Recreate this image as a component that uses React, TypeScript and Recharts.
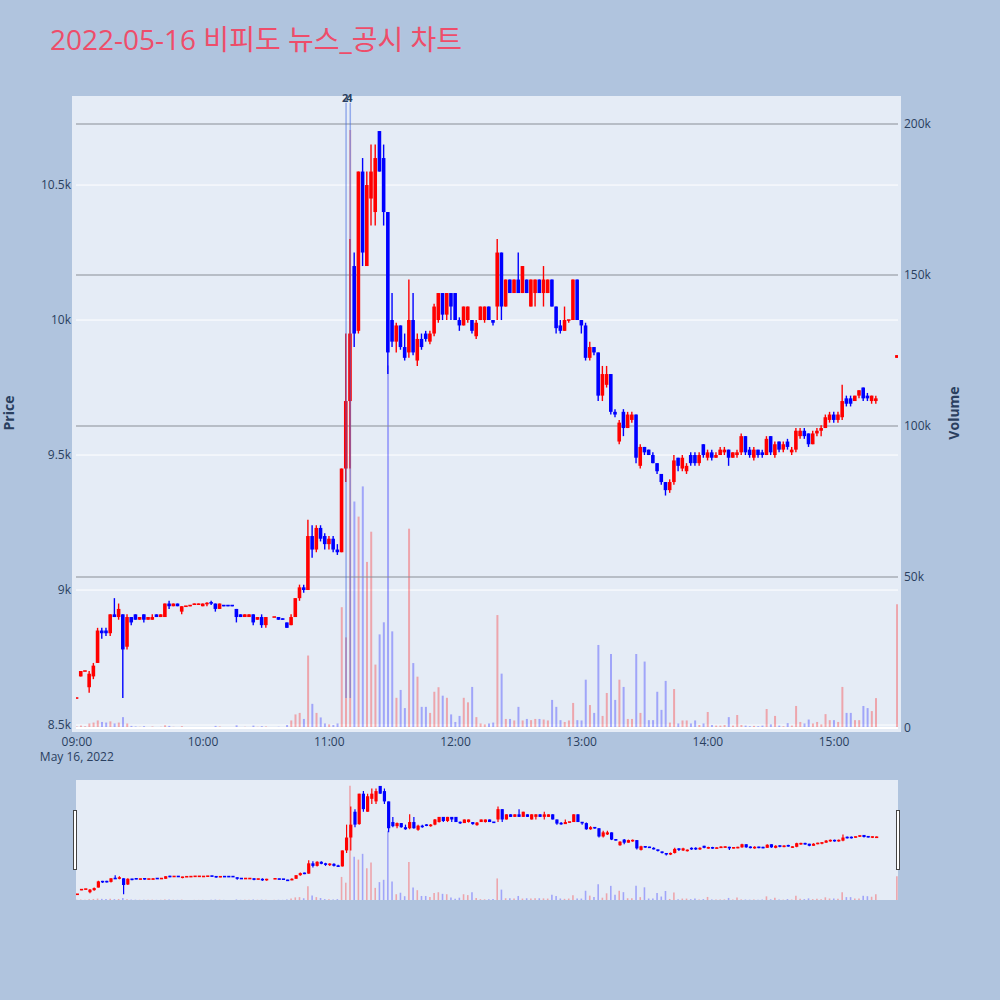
import React from "react";
import { ComposedChart, Bar, XAxis, YAxis, CartesianGrid, ReferenceLine, Cell } from "recharts";

// ---- data (2-minute bars from 09:00, index i -> minute 2*i) ----
const opens: (number | null)[] = [
  8600, 8680, 8700, 8640, 8680, 8730, 8850, 8850, 8840, 8910,
  8900, 8910, 8790, 8900, 8910, 8890, 8910, 8890, 8890, 8910,
  8900, 8900, 8950, 8940, 8950, 8920, 8940, 8940, 8945, 8945,
  8940, 8950, 8955, 8950, 8930, 8945, 8945, 8945, 8930, 8910,
  8900, 8900, 8910, 8890, 8900, 8870, null, 8900, 8900, 8895,
  8880, 8870, 8900, 8970, 9010, 9000, 9200, 9150, 9230, 9200,
  9170, 9190, 9150, 9140, 9450, 9700, 10200, 9960, 10550, 10200,
  10450, 10400, 10700, 10600, 10400, 10000, 9920, 9980, 9900, 9880,
  10000, 9850, 9930, 9950, 9920, 9950, 10000, 10100, 10020, 10100,
  10100, 10000, 9980, 10000, 10000, 9940, 10000, 10000, 10050, 10000,
  10050, 10250, 10050, 10150, 10100, 10150, 10100, 10150, 10050, 10100,
  10150, 10100, 10100, 10150, 10050, 9980, 9960, 10000, 10000, 10150,
  10000, 9980, 9860, 9900, 9880, 9720, 9760, 9800, 9660, 9550,
  9660, 9600, 9630, 9650, 9460, 9530, 9520, 9500, 9470, 9430,
  9400, 9370, 9400, 9490, 9450, 9440, 9500, 9500, 9470, 9540,
  9490, 9510, 9490, 9500, 9510, 9520, 9490, 9500, 9510, 9570,
  9520, 9490, 9520, 9510, 9500, 9570, 9500, 9550, 9520, 9550,
  9510, 9520, 9570, 9590, 9580, 9540, 9580, 9590, 9600, 9630,
  9650, 9630, 9640, 9710, 9710, 9700, 9720, 9750, 9720, 9700,
  9700, null, null, null, null, 9860,
];
const highs: (number | null)[] = [
  8600, 8700, 8700, 8700, 8730, 8860, 8860, 8860, 8910, 8970,
  8950, 8910, 8910, 8900, 8910, 8900, 8910, 8900, 8910, 8910,
  8910, 8950, 8960, 8950, 8950, 8940, 8940, 8945, 8950, 8950,
  8950, 8955, 8960, 8950, 8950, 8945, 8945, 8945, 8930, 8910,
  8910, 8910, 8910, 8900, 8910, 8900, null, 8900, 8900, 8895,
  8880, 8910, 8970, 9020, 9020, 9260, 9240, 9240, 9240, 9210,
  9200, 9200, 9170, 9450, 9950, 10300, 10250, 10550, 10600, 10550,
  10650, 10650, 10700, 10650, 10400, 10100, 9990, 9980, 9950, 10150,
  10100, 9950, 9950, 9960, 9960, 10060, 10100, 10100, 10100, 10100,
  10100, 10010, 10050, 10050, 10000, 10000, 10050, 10050, 10050, 10000,
  10300, 10250, 10150, 10150, 10150, 10250, 10200, 10150, 10150, 10150,
  10150, 10200, 10150, 10150, 10050, 10000, 10050, 10000, 10150, 10150,
  10000, 9990, 9920, 9900, 9880, 9830, 9830, 9800, 9670, 9630,
  9670, 9660, 9660, 9650, 9540, 9530, 9520, 9510, 9470, 9430,
  9400, 9410, 9500, 9490, 9500, 9470, 9510, 9510, 9510, 9540,
  9520, 9520, 9510, 9530, 9530, 9520, 9510, 9520, 9580, 9570,
  9530, 9530, 9520, 9520, 9570, 9570, 9550, 9550, 9550, 9560,
  9530, 9600, 9600, 9600, 9580, 9590, 9600, 9610, 9650, 9660,
  9660, 9660, 9760, 9720, 9720, 9720, 9740, 9750, 9730, 9720,
  9720, null, null, null, null, 9870,
];
const lows: (number | null)[] = [
  8600, 8680, 8700, 8620, 8670, 8730, 8820, 8830, 8830, 8900,
  8890, 8600, 8780, 8870, 8890, 8890, 8880, 8890, 8890, 8900,
  8900, 8900, 8930, 8940, 8940, 8910, 8940, 8940, 8945, 8945,
  8940, 8940, 8945, 8920, 8930, 8940, 8940, 8940, 8880, 8900,
  8900, 8900, 8870, 8890, 8860, 8860, null, 8900, 8890, 8890,
  8860, 8870, 8900, 8960, 8990, 9000, 9120, 9140, 9180, 9150,
  9150, 9140, 9130, 9140, 9400, 9450, 9900, 9950, 10200, 10200,
  10350, 10350, 10550, 10350, 9800, 9900, 9880, 9890, 9850, 9860,
  9870, 9830, 9890, 9920, 9910, 9940, 9990, 10000, 10000, 10000,
  10000, 9960, 9980, 9990, 9950, 9930, 10000, 9990, 10000, 9980,
  10000, 10000, 10050, 10100, 10100, 10100, 10100, 10100, 10050, 10050,
  10100, 10050, 10100, 10050, 9950, 9950, 9960, 9990, 10000, 10000,
  9950, 9850, 9850, 9870, 9700, 9700, 9750, 9650, 9640, 9540,
  9570, 9600, 9620, 9470, 9450, 9500, 9500, 9470, 9430, 9390,
  9350, 9360, 9390, 9440, 9440, 9430, 9460, 9460, 9460, 9490,
  9480, 9480, 9490, 9500, 9500, 9460, 9490, 9490, 9500, 9500,
  9490, 9480, 9490, 9490, 9500, 9500, 9490, 9510, 9510, 9520,
  9500, 9510, 9560, 9560, 9530, 9540, 9570, 9570, 9600, 9620,
  9620, 9620, 9630, 9680, 9680, 9700, 9710, 9700, 9700, 9690,
  9690, null, null, null, null, 9860,
];
const closes: (number | null)[] = [
  8600, 8700, 8700, 8690, 8720, 8850, 8840, 8840, 8910, 8900,
  8930, 8780, 8900, 8880, 8890, 8900, 8890, 8900, 8900, 8900,
  8910, 8950, 8940, 8950, 8940, 8940, 8940, 8945, 8950, 8950,
  8950, 8950, 8950, 8930, 8950, 8940, 8940, 8940, 8900, 8900,
  8910, 8910, 8880, 8900, 8870, 8900, null, 8900, 8890, 8890,
  8860, 8900, 8970, 9010, 9000, 9200, 9150, 9230, 9190, 9170,
  9190, 9150, 9140, 9450, 9700, 9950, 9950, 10550, 10250, 10500,
  10550, 10600, 10550, 10400, 9880, 9920, 9980, 9900, 9860, 10000,
  9880, 9930, 9900, 9930, 9950, 10050, 10100, 10020, 10100, 10050,
  10000, 9980, 10050, 10050, 9960, 9990, 10050, 10050, 10000, 9990,
  10250, 10050, 10150, 10100, 10150, 10100, 10200, 10100, 10150, 10150,
  10100, 10150, 10150, 10050, 9970, 9960, 10000, 10000, 10150, 10000,
  9980, 9860, 9900, 9880, 9720, 9800, 9800, 9660, 9650, 9620,
  9600, 9650, 9650, 9490, 9530, 9510, 9500, 9470, 9440, 9400,
  9370, 9400, 9480, 9460, 9490, 9460, 9470, 9470, 9500, 9500,
  9510, 9490, 9500, 9520, 9520, 9490, 9510, 9510, 9570, 9510,
  9500, 9520, 9500, 9500, 9560, 9510, 9540, 9520, 9540, 9530,
  9520, 9590, 9590, 9570, 9540, 9580, 9590, 9600, 9640, 9650,
  9630, 9650, 9700, 9690, 9690, 9720, 9740, 9710, 9710, 9720,
  9710, null, null, null, null, 9870,
];
const volumes: (number | null)[] = [
  500, 800, 600, 1500, 1800, 2500, 2000, 1800, 2200, 1500,
  1800, 3600, 1500, 700, 500, 400, 600, 300, 500, 300,
  400, 900, 700, 400, 300, 600, 200, 200, 200, 200,
  300, 200, 300, 700, 500, 200, 200, 200, 900, 300,
  400, 300, 800, 400, 600, 500, null, 300, 400, 200,
  1000, 2500, 4500, 5000, 3000, 24000, 8000, 5000, 3500, 1500,
  1200, 1000, 1500, 40000, 30000, 198000, 75000, 70000, 80000, 55000,
  65000, 21000, 31000, 35000, 120000, 32000, 10000, 12600, 6600, 66000,
  21500, 17000, 7000, 7000, 5000, 12000, 13500, 10700, 10000, 4500,
  2000, 4000, 10000, 8500, 13600, 3600, 1500, 1200, 1500, 1800,
  37400, 18000, 3000, 3000, 2500, 7000, 2500, 3000, 2600, 3000,
  3000, 2800, 2500, 9300, 7000, 2600, 2000, 2500, 8300, 2600,
  2500, 16000, 7600, 5000, 27500, 4000, 11600, 24500, 9300, 16000,
  13600, 3000, 3000, 24500, 5000, 22000, 2600, 2600, 12000, 6000,
  15600, 1800, 12900, 1500, 2500, 2500, 1500, 2500, 1000, 1500,
  5300, 1000, 800, 800, 1000, 3600, 800, 4300, 1000, 800,
  600, 700, 600, 800, 6300, 1200, 4000, 800, 600, 1600,
  800, 7300, 2000, 1500, 2800, 1500, 2000, 1200, 4600, 2600,
  2600, 2000, 13600, 5000, 5000, 2600, 2600, 7300, 6600, 5600,
  9900, null, null, null, null, 41000,
];

const xTicks = [0, 60, 120, 180, 240, 300, 360];
const xTickLabels = ["09:00", "10:00", "11:00", "12:00", "13:00", "14:00", "15:00"];
const dateLabel = "May 16, 2022";
const priceTicks = [8500, 9000, 9500, 10000, 10500];
const priceTickLabels = ["8.5k", "9k", "9.5k", "10k", "10.5k"];
const volumeTicks = [0, 50000, 100000, 150000, 200000];
const volumeTickLabels = ["0", "50k", "100k", "150k", "200k"];
const newsMinutes = [128, 130];
const newsCounts = ["2", "4"];
const newsPriceRange = [8600, 10805];

const titleText = "2022-05-16 비피도 뉴스_공시 차트";

// ---- styling ----
const RED = "#ff0000";
const BLUE = "#0000ff";
const VOL_RED = "rgba(255,0,0,0.3)";
const VOL_BLUE = "rgba(0,0,255,0.3)";
const FONT = '"Open Sans", "Noto Sans CJK KR", verdana, arial, sans-serif';
const TXT = "#2a3f5f";
const PRICE_DOMAIN: [number, number] = [8489, 10815];
const VOL_DOMAIN: [number, number] = [0, 207950];
const X_DOMAIN: [number, number] = [-0.4, 390.4];

type Row = { t: number; o: number; h: number; l: number; c: number; v: number };
const rows: Row[] = [];
opens.forEach((o, i) => {
  if (o == null) return;
  rows.push({ t: i * 2, o, h: highs[i] as number, l: lows[i] as number, c: closes[i] as number, v: (volumes[i] ?? 0) as number });
});

const makeCandle = (wick: number) => (props: any) => {
  const { x, y, width, height, payload } = props;
  if (!payload || x == null || y == null) return <g />;
  const { o, h, l, c } = payload as Row;
  const top = height < 0 ? y + height : y;
  const H = Math.abs(height || 0);
  const k = h > l ? H / (h - l) : 0;
  const yO = top + (h - o) * k;
  const yC = top + (h - c) * k;
  const col = c >= o ? RED : BLUE;
  const cx = x + width / 2;
  let bt = Math.min(yO, yC);
  let bh = Math.abs(yO - yC);
  if (bh < 1.6) {
    bt = (yO + yC) / 2 - 0.8;
    bh = 1.6;
  }
  return (
    <g>
      {H > 0 && <line x1={cx} x2={cx} y1={top} y2={top + H} stroke={col} strokeWidth={wick} />}
      <rect x={x} y={bt} width={width} height={bh} fill={col} />
    </g>
  );
};

const XTick = (props: any) => {
  const { x, payload } = props;
  const idx = xTicks.indexOf(payload.value);
  return (
    <g>
      <text x={x} y={746} textAnchor="middle" fontSize={12} fill={TXT} fontFamily={FONT}>
        {xTickLabels[idx]}
      </text>
      {idx === 0 && (
        <text x={x} y={761} textAnchor="middle" fontSize={12} fill={TXT} fontFamily={FONT}>
          {dateLabel}
        </text>
      )}
    </g>
  );
};

const candleRange = (d: Row) => [d.l, d.h];

function App() {
  const tickStyle = { fontSize: 12, fill: TXT, fontFamily: FONT };
  return (
    <div style={{ position: "absolute", left: 0, top: 0, width: 1000, height: 1000, background: "#b0c4de", overflow: "hidden" }}>
      {/* main plot background */}
      <div style={{ position: "absolute", left: 72, top: 96, width: 829, height: 636, background: "#e5ecf6" }} />
      {/* slider background */}
      <div style={{ position: "absolute", left: 76, top: 780, width: 822, height: 120, background: "#e5ecf6" }} />

      {/* layer 1: axes, grid, volume */}
      <div style={{ position: "absolute", left: 0, top: 0 }}>
        <ComposedChart width={1000} height={780} data={rows} margin={{ top: 100, right: 42, bottom: 22, left: 16 }}>
          <XAxis
            dataKey="t"
            type="number"
            domain={X_DOMAIN}
            ticks={xTicks}
            allowDataOverflow
            axisLine={false}
            tickLine={false}
            height={30}
            tick={<XTick />}
          />
          <YAxis
            yAxisId="price"
            orientation="left"
            width={60}
            type="number"
            domain={PRICE_DOMAIN}
            allowDataOverflow
            ticks={priceTicks}
            tickFormatter={(v: number) => priceTickLabels[priceTicks.indexOf(v)]}
            axisLine={false}
            tickLine={false}
            tickSize={5}
            tickMargin={0}
            tick={tickStyle}
          />
          <YAxis
            yAxisId="vol"
            orientation="right"
            width={60}
            type="number"
            domain={VOL_DOMAIN}
            allowDataOverflow
            ticks={volumeTicks}
            tickFormatter={(v: number) => volumeTickLabels[volumeTicks.indexOf(v)]}
            axisLine={false}
            tickLine={false}
            tickSize={6}
            tickMargin={0}
            tick={{ ...tickStyle, textAnchor: "start" }}
          />
          <CartesianGrid yAxisId="price" vertical={false} stroke="#ffffff" strokeWidth={1} horizontalValues={priceTicks} />
          {volumeTicks.map((v) => (
            <ReferenceLine key={v} yAxisId="vol" y={v} stroke={v === 0 ? "#ffffff" : "#8a8e96"} strokeWidth={v === 0 ? 2 : 1.2} ifOverflow="extendDomain" />
          ))}
          <Bar yAxisId="vol" dataKey="v" barSize={2} isAnimationActive={false}>
            {rows.map((r, i) => (
              <Cell key={i} fill={r.c >= r.o ? VOL_RED : VOL_BLUE} />
            ))}
          </Bar>
        </ComposedChart>
      </div>

      {/* layer 2: candles + news lines */}
      <div style={{ position: "absolute", left: 0, top: 0 }}>
        <ComposedChart width={1000} height={760} data={rows} margin={{ top: 100, right: 102, bottom: 32, left: 76 }}>
          <XAxis dataKey="t" type="number" domain={X_DOMAIN} allowDataOverflow hide />
          <YAxis type="number" domain={PRICE_DOMAIN} allowDataOverflow hide />
          {newsMinutes.map((m, i) => (
            <ReferenceLine
              key={m}
              segment={[
                { x: m, y: newsPriceRange[0] },
                { x: m, y: newsPriceRange[1] },
              ]}
              stroke="rgba(65,105,225,0.5)"
              strokeWidth={1.5}
              label={(p: any) => {
                const vb = p.viewBox || {};
                return (
                  <text x={(vb.x ?? 0) - 1} y={(vb.y ?? 100) - 1} textAnchor="middle" fontSize={11} fontWeight="bold" fill={TXT} fontFamily={FONT}>
                    {newsCounts[i]}
                  </text>
                );
              }}
            />
          ))}
          <Bar dataKey={candleRange as any} barSize={3.6} shape={makeCandle(1.4)} isAnimationActive={false} />
        </ComposedChart>
      </div>

      {/* range slider: volume */}
      <div style={{ position: "absolute", left: 0, top: 780 }}>
        <ComposedChart width={1000} height={120} data={rows} margin={{ top: 0, right: 102, bottom: 0, left: 76 }}>
          <XAxis dataKey="t" type="number" domain={X_DOMAIN} allowDataOverflow hide />
          <YAxis type="number" domain={VOL_DOMAIN} allowDataOverflow hide />
          <Bar dataKey="v" barSize={1.6} isAnimationActive={false}>
            {rows.map((r, i) => (
              <Cell key={i} fill={r.c >= r.o ? VOL_RED : VOL_BLUE} />
            ))}
          </Bar>
        </ComposedChart>
      </div>
      {/* range slider: candles */}
      <div style={{ position: "absolute", left: 0, top: 780 }}>
        <ComposedChart width={1000} height={120} data={rows} margin={{ top: 0, right: 102, bottom: 0, left: 76 }}>
          <XAxis dataKey="t" type="number" domain={X_DOMAIN} allowDataOverflow hide />
          <YAxis type="number" domain={PRICE_DOMAIN} allowDataOverflow hide />
          <Bar dataKey={candleRange as any} barSize={3.2} shape={makeCandle(1.2)} isAnimationActive={false} />
        </ComposedChart>
      </div>

      {/* texts and slider handles */}
      <svg width={1000} height={1000} style={{ position: "absolute", left: 0, top: 0, pointerEvents: "none" }}>
        <text x={50} y={50} fontSize={28} fill="#ee4d6a" fontFamily={FONT}>
          {titleText}
        </text>
        <text transform="translate(14,413) rotate(-90)" textAnchor="middle" fontSize={14} fontWeight="bold" fill={TXT} fontFamily={FONT}>
          Price
        </text>
        <text transform="translate(959,413) rotate(-90)" textAnchor="middle" fontSize={14} fontWeight="bold" fill={TXT} fontFamily={FONT}>
          Volume
        </text>
        <rect x={73.5} y={810.5} width={3} height={59} fill="#ffffff" stroke="#444444" strokeWidth={1} />
        <rect x={896.5} y={810.5} width={3} height={59} fill="#ffffff" stroke="#444444" strokeWidth={1} />
      </svg>
    </div>
  );
}

export default App;
